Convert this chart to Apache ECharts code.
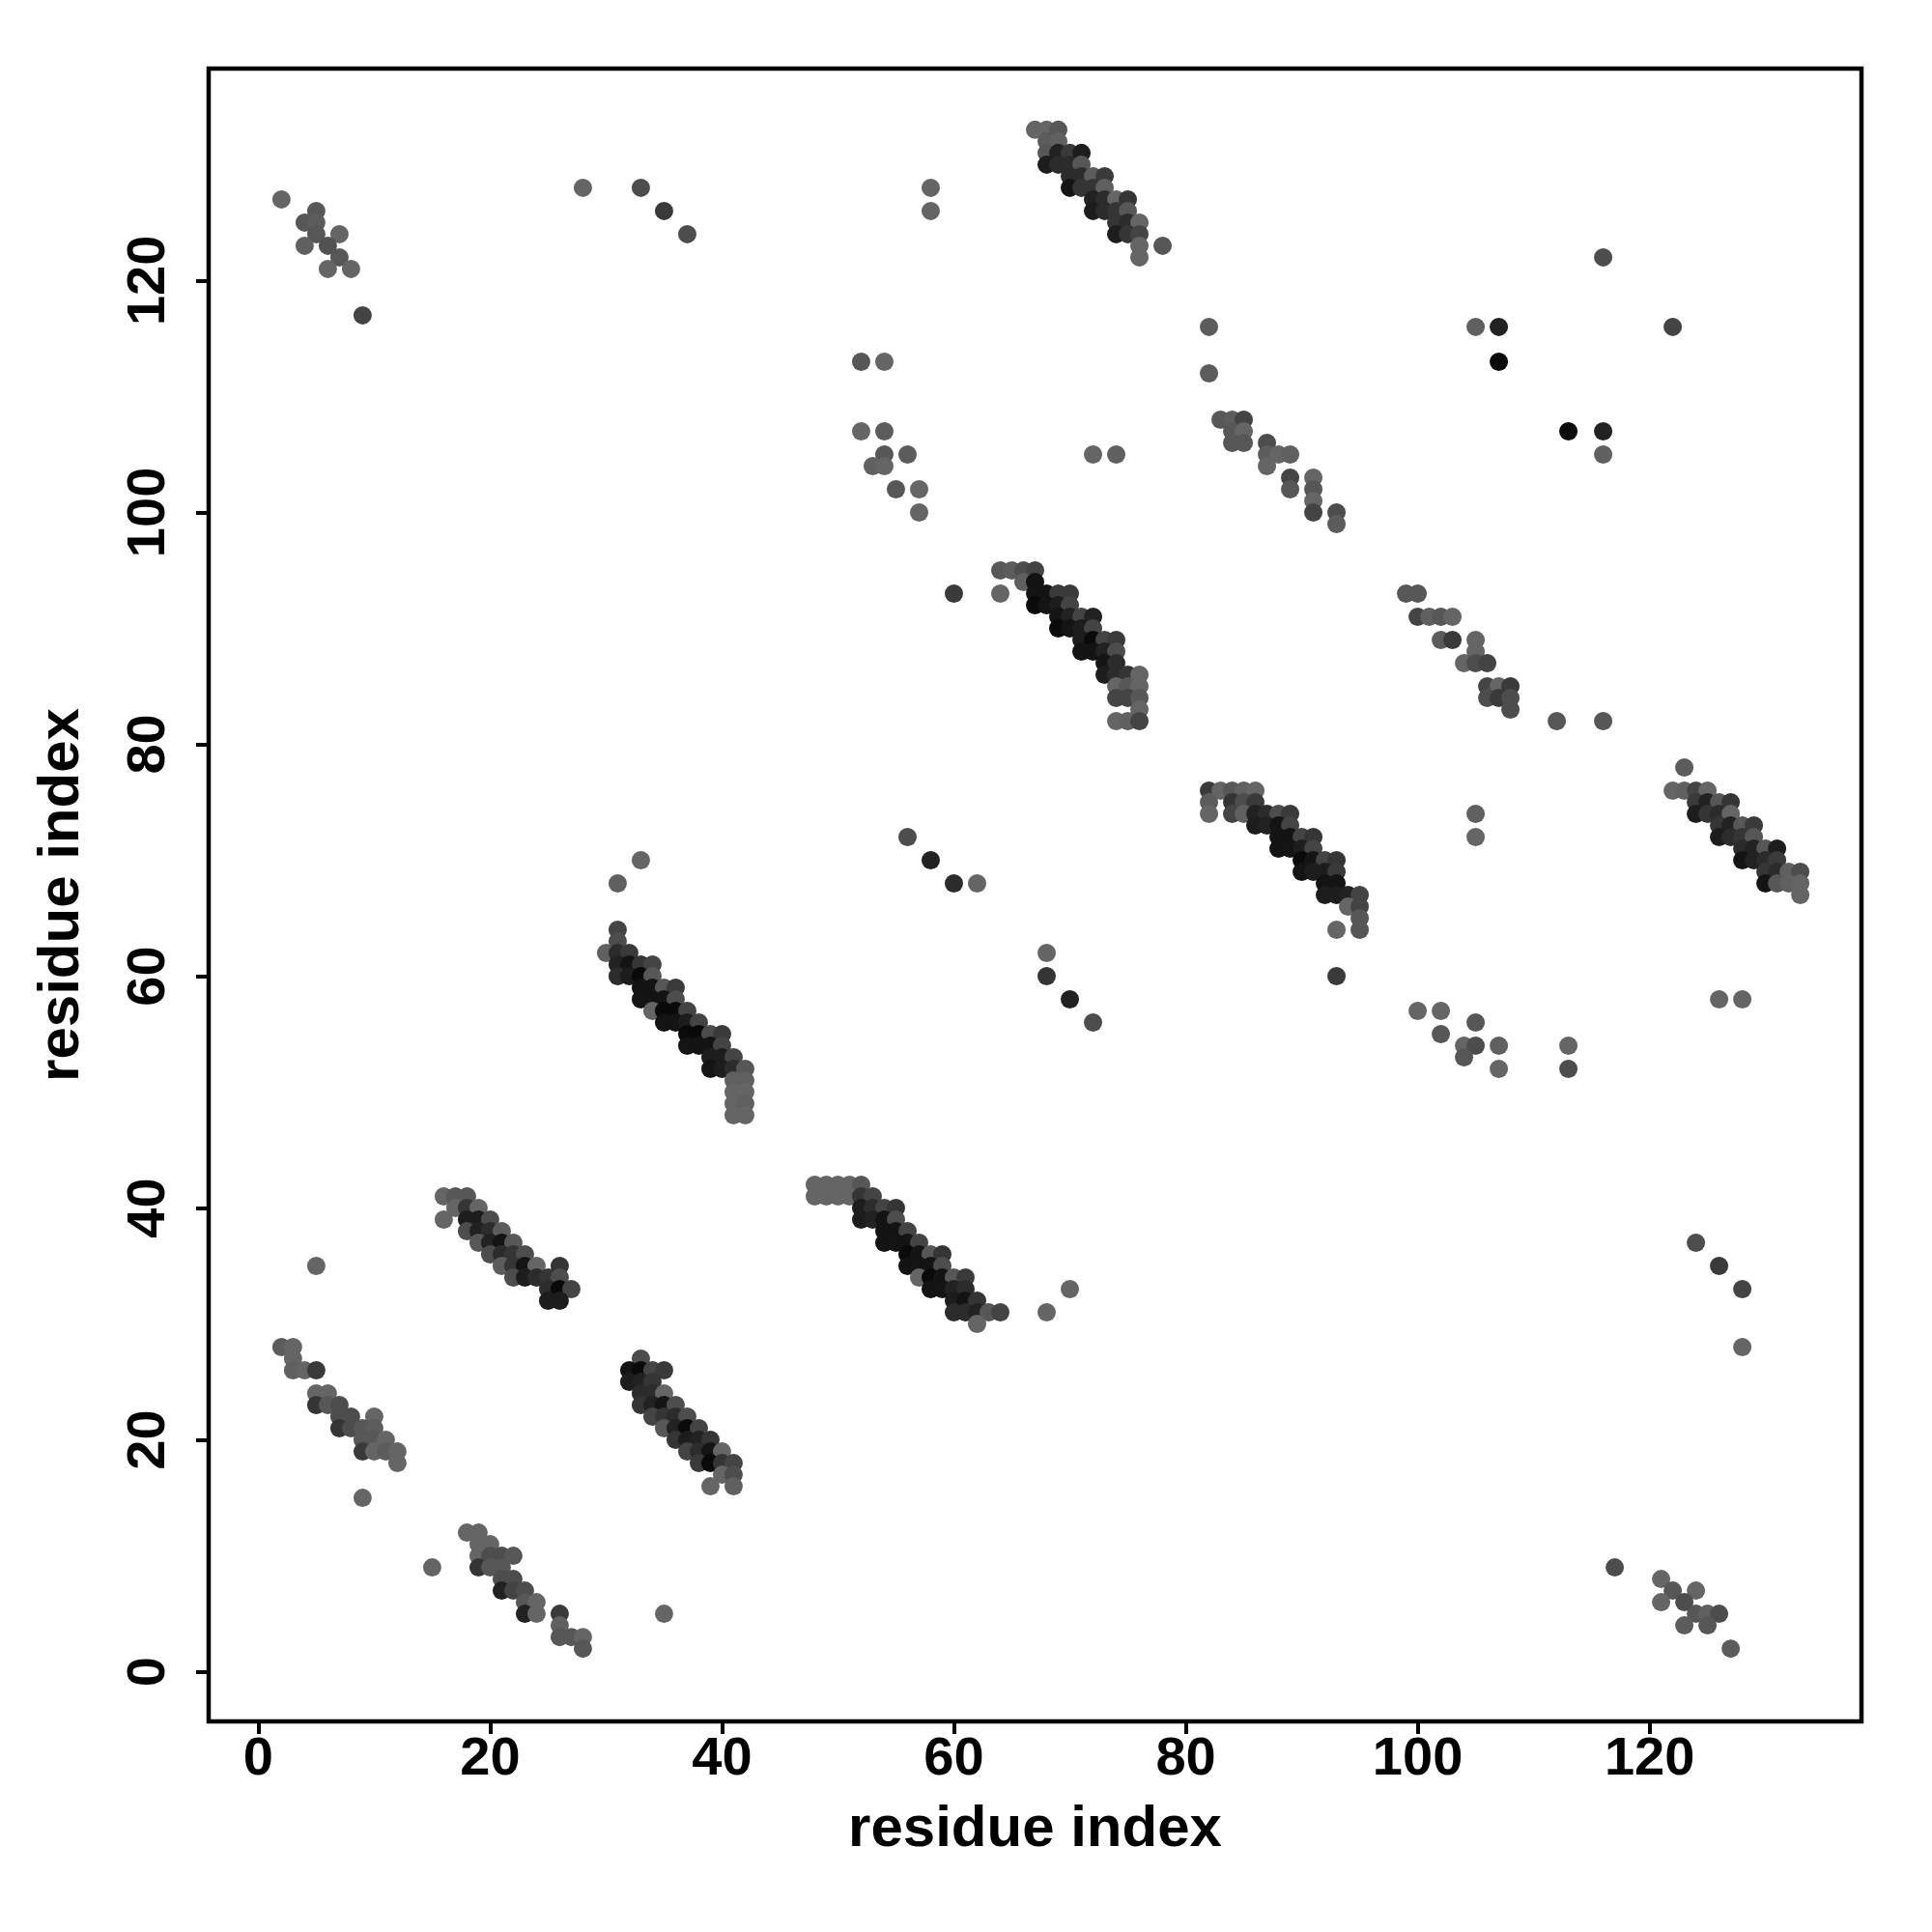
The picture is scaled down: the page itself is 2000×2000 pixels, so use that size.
<!DOCTYPE html>
<html><head><meta charset="utf-8">
<script src="https://cdn.jsdelivr.net/npm/echarts@6/dist/echarts.min.js"></script>
<style>html,body{margin:0;padding:0;background:#fff}#c{width:2000px;height:2000px}</style>
</head><body><div id="c"></div>
<script>
// Each point: [residue i, residue j, contact score (0 = weak/light, 1 = strong/dark)]
const clusterTopLeft = [[2,127,.05],[5,126,.2],[4,125,.2],[5,125,.15],[5,124,.2],[7,124,.05],[4,123,.1],[6,123,.25],[7,122,.2],[6,121,.05],[8,121,.05],[9,117,.4],[28,128,.05],[33,128,.3],[35,126,.5],[37,124,.3]];
const bandTop = [[58,128,.05],[58,126,.05],
 [67,133,.05],[68,133,.05],[69,133,.2],
 [68,132,.15],[69,132,.1],
 [68,131,.2],[69,131,.75],[70,131,.5],[71,131,.8],
 [68,130,.8],[69,130,.65],[70,130,.65],[71,130,.2],
 [70,129,.65],[71,129,.65],[72,129,.15],[73,129,.5],
 [70,128,.9],[71,128,.55],[72,128,.55],[73,128,.1],
 [72,127,.75],[73,127,.65],[74,127,.05],[75,127,.55],
 [72,126,.8],[73,126,.65],[74,126,.55],[75,126,.2],
 [74,125,.55],[75,125,.65],[76,125,.05],
 [74,124,.8],[75,124,.55],[76,124,.4],
 [76,123,.05],[78,123,.2],[76,122,.05]];
const clusterMidTop = [[52,113,.2],[54,113,.05],[52,107,.05],[54,107,.15],[54,105,.2],[56,105,.15],[53,104,.1],[54,104,.05],[55,102,.2],[57,102,.05],[57,100,.05],[72,105,.05],[74,105,.1],
 [82,116,.15],[82,112,.15],[83,108,.2],[84,108,.15],[85,108,.4],[84,107,.2],[85,107,.05],[84,106,.2],[85,106,.2],[87,106,.3],[87,105,.15],[87,104,.05],[88,105,.05],[89,105,.1],[89,103,.4],[89,102,.2],[91,103,.05],[91,102,.2],[91,101,.05],[91,100,.4],[93,100,.3],[93,99,.15]];
const clusterRightTop = [[116,122,.3],[105,116,.1],[107,116,.75],[107,113,1.0],[113,107,1.0],[116,107,.75],[116,105,.1],[122,116,.4],
 [99,93,.2],[100,93,.2],[100,91,.4],[101,91,.1],[102,91,.2],[103,91,.05],[102,89,.15],[103,89,.5],[105,89,.05],[105,88,.05],[104,87,.05],[105,87,.3],[106,87,.4],[106,85,.4],[107,85,.05],[108,85,.5],[106,84,.3],[107,84,.5],[108,84,.3],[108,83,.3],[112,82,.2],[116,82,.2],[105,74,.1],[105,72,.05]];
const bandRight = [[123,78,.15],
 [122,76,.05],[123,76,.1],[124,76,.4],[125,76,.05],
 [124,75,.5],[125,75,.75],[126,75,.2],[127,75,.55],
 [124,74,.8],[125,74,.55],[126,74,.65],[127,74,.05],
 [126,73,.55],[127,73,.75],[128,73,.2],[129,73,.5],
 [126,72,.8],[127,72,.65],[128,72,.55],[129,72,.2],
 [128,71,.65],[129,71,.75],[130,71,.2],[131,71,.8],
 [128,70,.9],[129,70,.75],[130,70,.65],[131,70,.5],
 [130,69,.55],[131,69,.65],[132,69,.1],[133,69,.3],
 [130,68,.9],[131,68,.2],[132,68,.1],[133,68,.05],
 [133,67,.05],[126,58,.05],[128,58,.05]];
const bandMid = [[60,93,.5],[64,93,.05],
 [64,95,.2],[65,95,.15],[66,95,.3],[67,95,.4],
 [66,94,.1],[67,94,.9],
 [67,93,.9],[68,93,.9],[69,93,.5],[70,93,.5],
 [67,92,1.0],[68,92,.9],[69,92,.8],[70,92,.4],
 [69,91,.9],[70,91,.75],[71,91,.4],[72,91,.75],
 [69,90,1.0],[70,90,.9],[71,90,.8],[72,90,.4],
 [71,89,.8],[72,89,1.0],[73,89,.4],[74,89,.5],
 [71,88,.9],[72,88,.9],[73,88,.75],[74,88,.3],
 [73,87,.9],[74,87,.65],
 [73,86,.8],[74,86,.65],[75,86,.55],[76,86,.05],
 [74,85,.05],[75,85,.2],[76,85,.05],
 [74,84,.4],[75,84,.4],[76,84,.2],
 [76,83,.05],[74,82,.05],[75,82,.1],[76,82,.4]];
const scatterMid = [[56,72,.3],[58,70,.75],[60,68,.65],[62,68,.05],[68,62,.05],[68,60,.55],[70,58,.75],[72,56,.3]];
const bandMidRight = [[82,76,.5],[83,76,.05],[84,76,.2],[85,76,.1],[86,76,.05],
 [82,75,.15],[84,75,.55],[85,75,.3],[86,75,.5],
 [82,74,.05],[84,74,.4],[85,74,.1],[86,74,.75],[87,74,.65],[88,74,.3],[89,74,.5],
 [86,73,.8],[87,73,.75],[88,73,.9],[89,73,.4],
 [88,72,.9],[89,72,.9],[90,72,.4],[91,72,.55],
 [88,71,.9],[89,71,.9],[90,71,.8],[91,71,.4],
 [90,70,1.0],[91,70,.9],[92,70,.4],[93,70,.55],
 [90,69,.9],[91,69,.8],[92,69,.8],[93,69,.5],
 [92,68,.9],[93,68,.9],
 [92,67,.8],[93,67,.8],[94,67,.75],[95,67,.4],
 [94,66,.05],[95,66,.4],[95,65,.2],[93,64,.05],[95,64,.2],[93,60,.5]];
const bandCentreLeft = [[33,70,.05],[31,68,.1],
 [31,64,.4],[31,63,.3],
 [30,62,.1],[31,62,.65],[32,62,.5],
 [31,61,.75],[32,61,.9],[33,61,.55],[34,61,.4],
 [31,60,.65],[32,60,.8],[33,60,1.0],[34,60,.2],
 [33,59,.9],[34,59,.9],[35,59,.2],[36,59,.5],
 [33,58,.9],[34,58,.9],[35,58,.9],[36,58,.3],
 [34,57,.05],[35,57,1.0],[36,57,1.0],[37,57,.4],
 [35,56,.9],[36,56,.9],[37,56,.8],[38,56,.4],
 [37,55,1.0],[38,55,1.0],[39,55,.3],[40,55,.5],
 [37,54,.9],[38,54,.9],[39,54,.9],[40,54,.4],
 [39,53,.8],[40,53,.8],[41,53,.4],
 [39,52,.9],[40,52,.8],[41,52,.65],[42,52,.2],
 [41,51,.1],[42,51,.1],[41,50,.05],[42,50,.05],
 [41,49,.05],[42,49,.1],[41,48,.05],[42,48,.05]];
const clusterRightLow = [[100,57,.05],[102,57,.05],[102,55,.2],[105,56,.2],[104,54,.05],[105,54,.3],[104,53,.2],[107,54,.1],[107,52,.05],[113,54,.05],[113,52,.3],
 [124,37,.3],[126,35,.5],[128,33,.4],[128,28,.05],
 [117,9,.3],[121,8,.05],[122,7,.2],[124,7,.05],[121,6,.05],[123,6,.3],[124,5,.2],[125,5,.1],[126,5,.3],[123,4,.15],[125,4,.2],[127,2,.15]];
const bandLow1 = [[5,35,.05],
 [16,41,.05],[17,41,.2],[18,41,.2],
 [17,40,.05],[18,40,.55],[19,40,.05],
 [16,39,.05],[18,39,.8],[19,39,.8],[20,39,.3],
 [18,38,.3],[19,38,.75],[20,38,.65],[21,38,.15],
 [19,37,.2],[20,37,.75],[21,37,.9],[22,37,.2],
 [20,36,.3],[21,36,.65],[22,36,.55],[23,36,.3],
 [21,35,.15],[22,35,.55],[23,35,.9],[24,35,.05],[26,35,.55],
 [22,34,.3],[23,34,.8],[24,34,.65],[25,34,.55],[26,34,.3],
 [25,33,.65],[26,33,1.0],[27,33,.4],
 [25,32,.8],[26,32,.8]];
const bandLow2 = [[48,42,.05],[49,42,.05],[50,42,.05],[51,42,.05],[52,42,.2],
 [48,41,.05],[49,41,.05],[50,41,.05],[51,41,.05],[52,41,.55],[53,41,.4],
 [52,40,.8],[53,40,.65],[54,40,.4],[55,40,.55],
 [52,39,.8],[53,39,.75],[54,39,.9],[55,39,.3],
 [54,38,.9],[55,38,.9],[56,38,.4],
 [54,37,.9],[55,37,.9],[56,37,.9],[57,37,.4],
 [56,36,1.0],[57,36,.9],[58,36,.2],[59,36,.55],
 [56,35,.9],[57,35,.9],[58,35,.9],[59,35,.3],
 [57,34,.05],[58,34,1.0],[59,34,.9],[60,34,.2],[61,34,.5],
 [58,33,.9],[59,33,.9],[60,33,.75],[61,33,.65],
 [60,32,.8],[61,32,.9],[62,32,.55],
 [60,31,.65],[61,31,.65],[62,31,.75],[63,31,.2],[64,31,.4],
 [62,30,.05],[68,31,.05],[70,33,.05]];
const bandBottomLeft = [[2,28,.15],[3,28,.05],[3,27,.05],
 [3,26,.1],[4,26,.05],[5,26,.5],
 [5,24,.05],[6,24,.05],
 [5,23,.55],[6,23,.2],[7,23,.3],
 [7,22,.3],[8,22,.3],[10,22,.05],
 [7,21,.55],[8,21,.3],[9,21,.2],[10,21,.15],
 [9,20,.2],[10,20,.2],[11,20,.05],
 [9,19,.5],[10,19,.05],[11,19,.15],[12,19,.05],
 [12,18,.05],[9,15,.05]];
const bandBottom = [[15,9,.05],
 [18,12,.05],[19,12,.05],[19,11,.05],[20,11,.05],
 [19,10,.05],[20,10,.3],[21,10,.3],[22,10,.2],
 [19,9,.55],[20,9,.2],[21,9,.2],
 [21,8,.3],[22,8,.3],
 [21,7,.75],[22,7,.4],[23,7,.3],
 [23,6,.2],[24,6,.05],
 [23,5,.75],[24,5,.05],[26,5,.5],
 [26,4,.1],[26,3,.2],[27,3,.2],[28,3,.05],[28,2,.2],[35,5,.05]];
const bandLowMid = [[33,27,.3],
 [32,26,.9],[33,26,1.0],[34,26,.4],[35,26,.5],
 [32,25,.8],[33,25,.75],[34,25,.55],
 [33,24,.65],[34,24,.65],[35,24,.05],
 [33,23,.55],[34,23,.75],[35,23,.9],[36,23,.3],
 [34,22,.4],[35,22,.55],[36,22,.65],[37,22,.3],
 [35,21,.2],[36,21,.75],[37,21,1.0],[38,21,.4],
 [36,20,.55],[37,20,.8],[38,20,.75],[39,20,.55],
 [37,19,.4],[38,19,.65],[39,19,.9],[40,19,.05],
 [38,18,.5],[39,18,1.0],[40,18,.55],[41,18,.4],
 [40,17,.05],[41,17,.3],[39,16,.05],[41,16,.1]];

const tickValues = [0, 20, 40, 60, 80, 100, 120];
const axisTitle = 'residue index';
const axisMin = -4.28, axisMax = 138.28;

const allPoints = [].concat(clusterTopLeft, bandTop, clusterMidTop, clusterRightTop, bandRight, bandMid,
  scatterMid, bandMidRight, bandCentreLeft, clusterRightLow, bandLow1, bandLow2, bandBottomLeft, bandBottom, bandLowMid);

function greyFor(p){ const g = Math.round(106 - p*96); return 'rgb(' + g + ',' + g + ',' + g + ')'; }

const FONT = 'Liberation Sans';
const chart = echarts.init(document.getElementById('c'), null, {renderer:'canvas'});
const axisCommon = {
  type:'value', min:axisMin, max:axisMax,
  name: axisTitle, nameLocation:'middle',
  nameTextStyle:{fontFamily:FONT, fontWeight:'bold', fontSize:60, color:'#000'},
  axisLine:{show:false, onZero:false},
  axisTick:{show:true, inside:false, length:13, lineStyle:{color:'#000', width:4}, customValues: tickValues},
  axisLabel:{show:true, fontFamily:FONT, fontWeight:'bold', fontSize:56, color:'#000', customValues: tickValues},
  splitLine:{show:false}
};
chart.setOption({
  animation:false,
  backgroundColor:'#fff',
  grid:{left:216, top:71, width:1711, height:1711, show:true, borderColor:'#000', borderWidth:4.5, backgroundColor:'transparent'},
  xAxis: Object.assign({}, axisCommon, {nameGap:82, axisLabel:Object.assign({}, axisCommon.axisLabel, {margin:12})}),
  yAxis: Object.assign({}, axisCommon, {nameGap:122, nameRotate:90, axisLabel:Object.assign({}, axisCommon.axisLabel, {rotate:90, margin:33})}),
  series:[{
    type:'scatter', symbol:'circle', symbolSize:19,
    data: allPoints.map(d => ({value:[d[0], d[1]], itemStyle:{color:greyFor(d[2])}})),
    itemStyle:{opacity:1}
  }]
});
</script></body></html>
